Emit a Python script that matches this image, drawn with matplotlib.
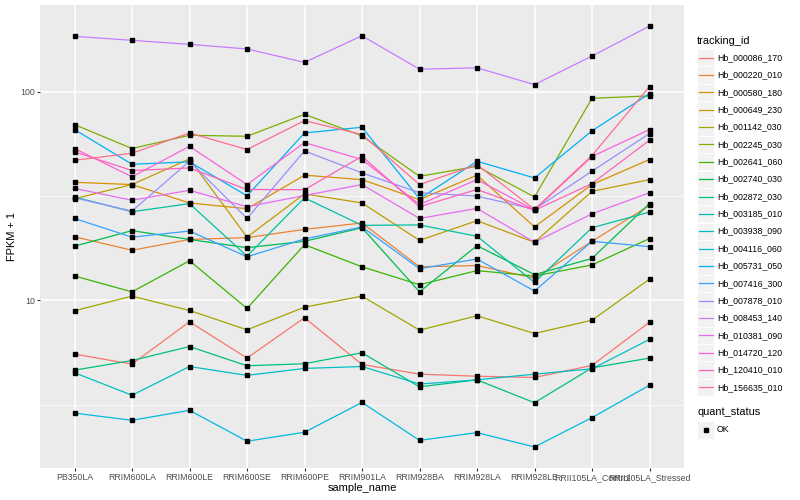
import numpy as np
import matplotlib
matplotlib.use("Agg")
import matplotlib.pyplot as plt
from matplotlib.patches import Rectangle
from matplotlib.ticker import FixedLocator, NullFormatter

plt.rcParams["font.family"] = ["Liberation Sans", "DejaVu Sans"]

# ---- data (FPKM + 1) ----
samples = ["PB350LA", "RRIM600LA", "RRIM600LE", "RRIM600SE", "RRIM600PE", "RRIM901LA",
           "RRIM928BA", "RRIM928LA", "RRIM928LE", "RRII105LA_Control", "RRII105LA_Stressed"]

tracking_ids = ["Hb_000086_170", "Hb_000220_010", "Hb_000580_180", "Hb_000649_230",
                "Hb_001142_030", "Hb_002245_030", "Hb_002641_060", "Hb_002740_030",
                "Hb_002872_030", "Hb_003185_010", "Hb_003938_090", "Hb_004116_060",
                "Hb_005731_050", "Hb_007416_300", "Hb_007878_010", "Hb_008453_140",
                "Hb_010381_090", "Hb_014720_120", "Hb_120410_010", "Hb_156635_010"]

hb_000086_170 = [5.54, 4.96, 7.91, 5.30, 8.27, 4.94, 4.44, 4.34, 4.28, 4.89, 7.87]
hb_000220_010 = [20.2, 17.4, 19.6, 20.0, 21.9, 23.5, 14.5, 14.7, 12.8, 19.2, 28.5]
hb_000580_180 = [36.8, 35.9, 29.3, 27.5, 39.8, 37.9, 30.4, 39.8, 22.5, 35.9, 47.3]
hb_000649_230 = [30.7, 35.9, 47.6, 20.1, 32.4, 29.3, 19.4, 24.1, 19.0, 33.3, 37.9]
hb_001142_030 = [8.93, 10.49, 8.96, 7.24, 9.29, 10.49, 7.21, 8.45, 6.95, 8.05, 12.65]
hb_002245_030 = [69.5, 53.4, 61.8, 61.1, 77.9, 61.4, 39.3, 43.9, 31.3, 92.9, 95.4]
hb_002641_060 = [13.1, 11.0, 15.5, 9.16, 18.5, 14.5, 11.9, 13.9, 13.1, 14.8, 19.8]
hb_002740_030 = [18.2, 21.6, 19.6, 17.9, 19.2, 22.3, 11.0, 18.3, 13.3, 15.9, 29.1]
hb_002872_030 = [4.64, 5.16, 6.02, 4.87, 4.98, 5.62, 3.86, 4.17, 3.24, 4.76, 5.30]
hb_003185_010 = [31.3, 26.6, 29.1, 16.3, 31.0, 22.9, 23.0, 20.3, 12.2, 22.3, 26.5]
hb_003938_090 = [4.51, 3.52, 4.83, 4.38, 4.73, 4.83, 3.98, 4.17, 4.44, 4.71, 6.51]
hb_004116_060 = [2.89, 2.67, 2.98, 2.12, 2.34, 3.25, 2.14, 2.33, 1.99, 2.75, 3.93]
hb_005731_050 = [65.8, 44.9, 46.1, 31.7, 63.4, 67.5, 30.7, 46.4, 38.6, 64.9, 97.8]
hb_007416_300 = [24.7, 20.1, 21.5, 16.2, 19.7, 22.5, 14.2, 15.8, 11.1, 19.2, 18.1]
hb_007878_010 = [31.0, 26.8, 46.4, 24.7, 52.0, 40.8, 32.8, 31.6, 27.3, 41.6, 63.0]
hb_008453_140 = [183.9, 176.0, 168.4, 160.0, 138.0, 185.0, 128.0, 130.0, 108.0, 148.0, 206.0]
hb_010381_090 = [34.4, 30.2, 33.7, 28.1, 31.8, 35.9, 24.7, 27.6, 19.0, 26.0, 32.8]
hb_014720_120 = [53.4, 39.1, 54.7, 35.9, 57.0, 47.3, 28.8, 37.9, 27.1, 48.9, 65.8]
hb_120410_010 = [51.5, 41.9, 43.1, 34.0, 33.9, 49.0, 28.1, 34.0, 27.0, 36.3, 58.5]
hb_156635_010 = [46.9, 50.7, 63.4, 52.8, 72.6, 62.3, 35.9, 44.7, 27.3, 49.4, 105.7]

series = [hb_000086_170, hb_000220_010, hb_000580_180, hb_000649_230, hb_001142_030,
          hb_002245_030, hb_002641_060, hb_002740_030, hb_002872_030, hb_003185_010,
          hb_003938_090, hb_004116_060, hb_005731_050, hb_007416_300, hb_007878_010,
          hb_008453_140, hb_010381_090, hb_014720_120, hb_120410_010, hb_156635_010]

# ggplot default hue palette, 20 levels
palette = ["#F8766D", "#EA8331", "#D89000", "#C09B00", "#A3A500", "#7CAE00", "#39B600",
           "#00BB4E", "#00BF7D", "#00C1A3", "#00BFC4", "#00BAE0", "#00B0F6", "#35A2FF",
           "#9590FF", "#C77CFF", "#E76BF3", "#FA62DB", "#FF62BC", "#FF6C91"]

W, H = 800, 500
fig = plt.figure(figsize=(8, 5), dpi=100)
fig.patch.set_facecolor("white")
# panel in pixel coordinates: x 40..684, y 5..468
ax = fig.add_axes([40 / W, 1 - 468 / H, 644 / W, 463 / H])
ax.set_facecolor("#EBEBEB")

x = np.arange(len(samples))
for vals, c in zip(series, palette):
    ax.plot(x, vals, color=c, lw=0.9, zorder=2, solid_capstyle="butt")
for vals in series:
    ax.plot(x, vals, ls="none", marker="s", ms=2.2, color="black", zorder=3)

ax.set_yscale("log")
allv = np.log10(np.concatenate([np.asarray(s) for s in series]))
lo, hi = allv.min(), allv.max()
pad = (hi - lo) * 0.05
ax.set_ylim(10 ** (lo - pad), 10 ** (hi + pad))
ax.set_xlim(-0.6, len(samples) - 0.4)

ax.yaxis.set_major_locator(FixedLocator([10, 100]))
ax.set_yticklabels(["10", "100"])
ax.yaxis.set_minor_locator(FixedLocator([10 ** 0.5, 10 ** 1.5, 10 ** 2.5]))
ax.yaxis.set_minor_formatter(NullFormatter())
ax.set_xticks(x)
ax.set_xticklabels(samples)

ax.grid(which="major", color="white", lw=1.1)
ax.grid(which="minor", axis="y", color="white", lw=0.55)
ax.set_axisbelow(True)
for s in ax.spines.values():
    s.set_visible(False)
ax.tick_params(which="major", length=2.0, width=0.8, color="#333333",
               labelsize=6.3, labelcolor="#4D4D4D", pad=1.6)
ax.tick_params(which="minor", length=0)

fig.text(362 / W, 1 - 488 / H, "sample_name", fontsize=7.9, ha="center", va="center")
fig.text(12 / W, 1 - 236.5 / H, "FPKM + 1", fontsize=7.9, rotation=90,
         ha="center", va="center")

# ---- legends, drawn in pixel space ----
lax = fig.add_axes([0, 0, 1, 1])
lax.set_xlim(0, W)
lax.set_ylim(H, 0)
lax.axis("off")

key = 17.28
kx = 697
lax.text(kx, 40.8, "tracking_id", fontsize=7.9, ha="left", va="center")
y0 = 57.7
for i, (name, c) in enumerate(zip(tracking_ids, palette)):
    cy = y0 + i * 17.35
    lax.add_patch(Rectangle((kx, cy - key / 2), key, key, facecolor="#F2F2F2",
                            edgecolor="white", lw=0.6))
    lax.plot([kx + 1.7, kx + key - 1.7], [cy, cy], color=c, lw=0.9)
    lax.text(kx + 20, cy, name, fontsize=6.3, ha="left", va="center")

lax.text(kx, 412, "quant_status", fontsize=7.9, ha="left", va="center")
cy = 430
lax.add_patch(Rectangle((kx, cy - key / 2), key, key, facecolor="#F2F2F2",
                        edgecolor="white", lw=0.6))
lax.plot([kx + key / 2], [cy], ls="none", marker="s", ms=2.2, color="black")
lax.text(kx + 20, cy, "OK", fontsize=6.3, ha="left", va="center")

fig.savefig("out.png", dpi=100)
